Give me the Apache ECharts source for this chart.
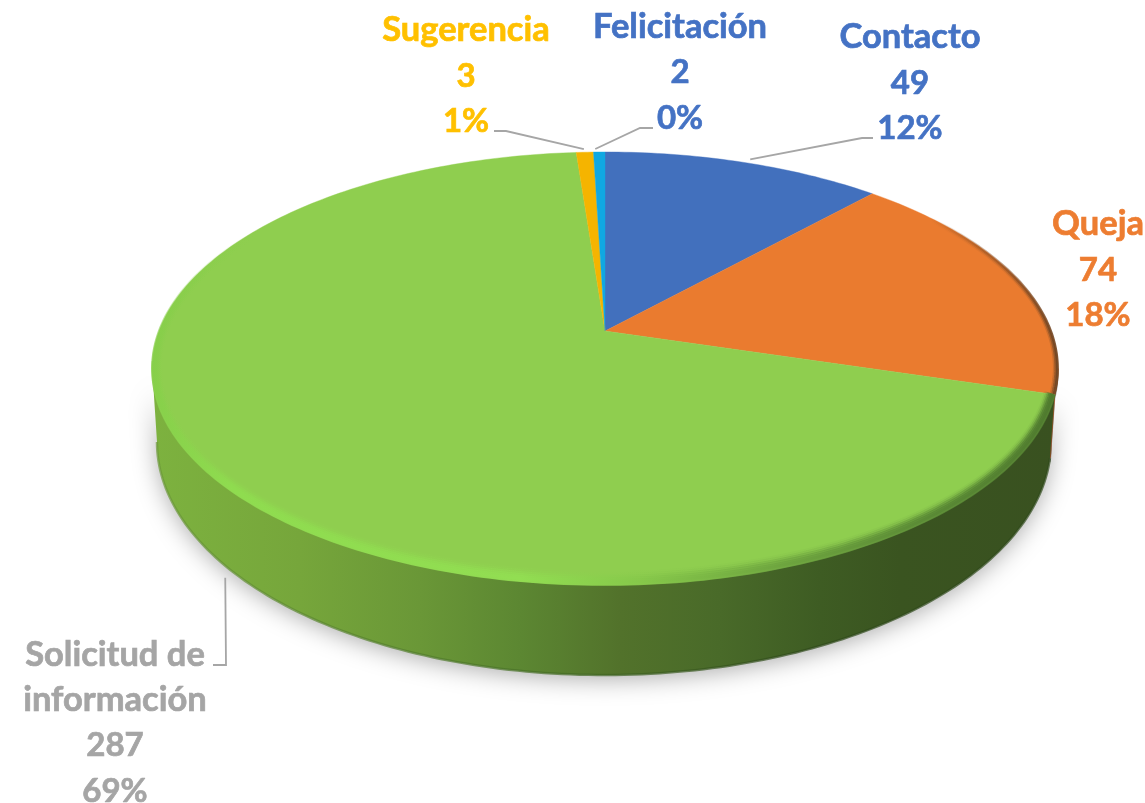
<!DOCTYPE html>
<html><head><meta charset="utf-8">
<style>html,body{margin:0;padding:0;background:#fff}#c{width:1145px;height:803px}</style>
<script src="https://cdn.jsdelivr.net/npm/echarts@6/dist/echarts.min.js"></script>
</head><body><div id="c"></div>
<script>
const categories = ['Contacto', 'Queja', 'Solicitud de\ninformación', 'Sugerencia', 'Felicitación'];
const counts = [49, 74, 287, 3, 2];
const faceColors = ['#4270bd', '#ea7b2f', '#8fce4f', '#f5b400', '#10a8e2'];
const labelColors = ['#4472c4', '#ed7d31', '#a5a5a5', '#ffc000', '#4472c4'];

// projection of the tilted disc (layout only)
const VIEW = {cx: 605, cy: 331, A: 446, B: 210, k: -0.173};
const BASE = {cx: 604, cy: 442, rx: 447, ry: 233};
const total = counts.reduce((a, b) => a + b, 0);
const rows = [];
let cum = 0;
counts.forEach((v, i) => { rows.push({name: categories[i], value: [v, cum]}); cum += v; });

const labelCenters = [[910, 83], [1098, 270], [115, 723], [466, 76], [680, 72.5]];
const leaderShift = [[6, -3], null, [10, 99], [-1, -3], [-4, -3]];
const leaderBends = [
  [[862, 138], [873, 138]], null, [[226, 665], [213, 665]],
  [[506, 131], [494, 131]], [[640, 128], [653, 128]]
];

function toAngle(v) { return v / total * 360; }
function topPt(deg, t) {
  const a = deg * Math.PI / 180, X = Math.sin(a), Y = -Math.cos(a), d = 1 + VIEW.k * Y;
  const x = VIEW.A * X / d, y = VIEW.B * Y / d;
  const ty = t || 0;
  return [VIEW.cx + x * (1 - 0.022 * ty), VIEW.cy + y * (1 - 0.055 * ty)];
}
function basePt(deg) {
  const phi = (94 + (deg - 106.7) * 1.148) * Math.PI / 180;
  return [BASE.cx + BASE.rx * Math.sin(phi), BASE.cy - BASE.ry * Math.cos(phi)];
}
function arc(fn, a, b, extra) {
  const n = Math.max(2, Math.ceil(Math.abs(b - a)));
  const out = [];
  for (let i = 0; i <= n; i++) out.push(fn(a + (b - a) * i / n, extra));
  return out;
}
function hGrad(stops) {
  return new echarts.graphic.LinearGradient(151, 0, 1058, 0,
    stops.map(s => ({offset: (s[0] - 151) / 907, color: s[1]})), true);
}
function vGrad(y0, y1, c0, c1) {
  return new echarts.graphic.LinearGradient(0, y0, 0, y1, [{offset: 0, color: c0}, {offset: 1, color: c1}], true);
}
const wallStops = [[151,'#7db23f'],[300,'#76a63b'],[420,'#6a9737'],[520,'#5c8732'],[620,'#52722b'],[720,'#496a29'],[820,'#3e5c23'],[900,'#3a5420'],[1058,'#395120']];
const rimStops = {
  2: [[151,'#87cf4a'],[230,'#8fdc4f'],[520,'#92de52'],[640,'#86c84a'],[780,'#6ea53f'],[930,'#5a8a35'],[1058,'#4f7a2e']],
  1: [[151,'rgba(120,70,30,0)'],[930,'rgba(120,70,30,0)'],[1000,'rgba(130,75,35,.55)'],[1058,'#6e4524']]
};

function renderWall(params, api) {
  const s = toAngle(api.value(1)), e = s + toAngle(api.value(0));
  const from = Math.max(s, 100), to = Math.min(e, 260);
  if (from >= to) return {type: 'group', children: []};
  const pts = arc(topPt, from, to).concat(arc(basePt, to, from));
  const isMain = params.dataIndex === 2;
  return {type: 'polygon', shape: {points: pts}, style: {
    fill: isMain ? hGrad(wallStops) : '#9c5528',
    stroke: isMain ? null : '#a55a2a', lineWidth: isMain ? 0 : 1.5,
    shadowBlur: isMain ? 24 : 0, shadowColor: 'rgba(0,0,0,.33)', shadowOffsetY: 4
  }};
}
function renderEdge(params, api) {
  const s = toAngle(api.value(1)), e = s + toAngle(api.value(0));
  const from = Math.max(s, 100), to = Math.min(e, 260);
  if (params.dataIndex !== 2) return {type: 'group', children: []};
  return {type: 'polyline', shape: {points: arc(basePt, from, to)}, style: {
    fill: null, lineWidth: 2.5, opacity: .7,
    stroke: hGrad([[151,'#6c9a38'],[500,'#4a7428'],[800,'#2f4a1a'],[1058,'#2f4a1a']])
  }};
}
function renderFace(params, api) {
  const s = toAngle(api.value(1)), e = s + toAngle(api.value(0));
  const pts = [[VIEW.cx, VIEW.cy]].concat(arc(topPt, s, e));
  return {type: 'polygon', shape: {points: pts}, style: {fill: faceColors[params.dataIndex], stroke: faceColors[params.dataIndex], lineWidth: .4}};
}
const ringOpacity = {2: [.9, 1, .9, .7, .45, .2, .08], 1: [.9, .55, .25]};
const ringDepth = {2: 1, 1: 0.45};
function renderRim(params, api) {
  const i = params.dataIndex, op = ringOpacity[i];
  if (!op) return {type: 'group', children: []};
  const s = toAngle(api.value(1)), e = s + toAngle(api.value(0));
  const from = i === 2 ? s : Math.max(s, 40);
  const to = i === 2 ? Math.min(e, 262) : e;
  const stroke = hGrad(rimStops[i]);
  const kids = op.map((o, j) => ({
    type: 'polyline',
    shape: {points: arc(topPt, from, to, ringDepth[i] * (j + 0.3) / op.length)},
    style: {fill: null, stroke, lineWidth: 3, opacity: o}
  }));
  if (i === 2) {
    const fade = vGrad(235, 375, 'rgba(135,207,74,0)', '#87cf4a');
    op.forEach((o, j) => kids.push({
      type: 'polyline',
      shape: {points: arc(topPt, 262, 318, ringDepth[i] * (j + 0.3) / op.length)},
      style: {fill: null, stroke: fade, lineWidth: 3, opacity: o}
    }));
  }
  return {type: 'group', children: kids};
}
function renderLabel(params, api) {
  const i = params.dataIndex, v = api.value(0);
  const pct = Math.round(v / total * 100) + '%';
  const nameLines = categories[i].split('\n').map(l => '{n|' + l + '}');
  const token = size => ({fontFamily: 'Lato', fontWeight: 'bold', fontSize: size, lineHeight: 45.7,
    fill: labelColors[i], stroke: labelColors[i], lineWidth: 0.7});
  const kids = [{type: 'text', style: {
    text: nameLines.concat(['{d|' + v + '}', '{d|' + pct + '}']).join('\n'),
    x: labelCenters[i][0], y: labelCenters[i][1],
    align: 'center', verticalAlign: 'middle',
    rich: {n: token(34.5), d: token(33)}
  }}];
  if (leaderBends[i]) {
    const mid = toAngle(api.value(1) + v / 2), p = topPt(mid);
    const start = [p[0] + leaderShift[i][0], p[1] + leaderShift[i][1]];
    kids.push({type: 'polyline', shape: {points: [start].concat(leaderBends[i])},
      style: {fill: null, stroke: '#a6a6a6', lineWidth: 1.8}});
  }
  return {type: 'group', children: kids};
}
const mk = (name, fn) => ({type: 'custom', name, coordinateSystem: 'none', renderItem: fn,
  data: rows, silent: true, animation: false, clip: false});
const chart = echarts.init(document.getElementById('c'), null, {renderer: 'canvas'});
chart.setOption({
  backgroundColor: '#fff', animation: false,
  series: [mk('wall', renderWall), mk('edge', renderEdge), mk('face', renderFace), mk('rim', renderRim), mk('labels', renderLabel)]
});
</script></body></html>
